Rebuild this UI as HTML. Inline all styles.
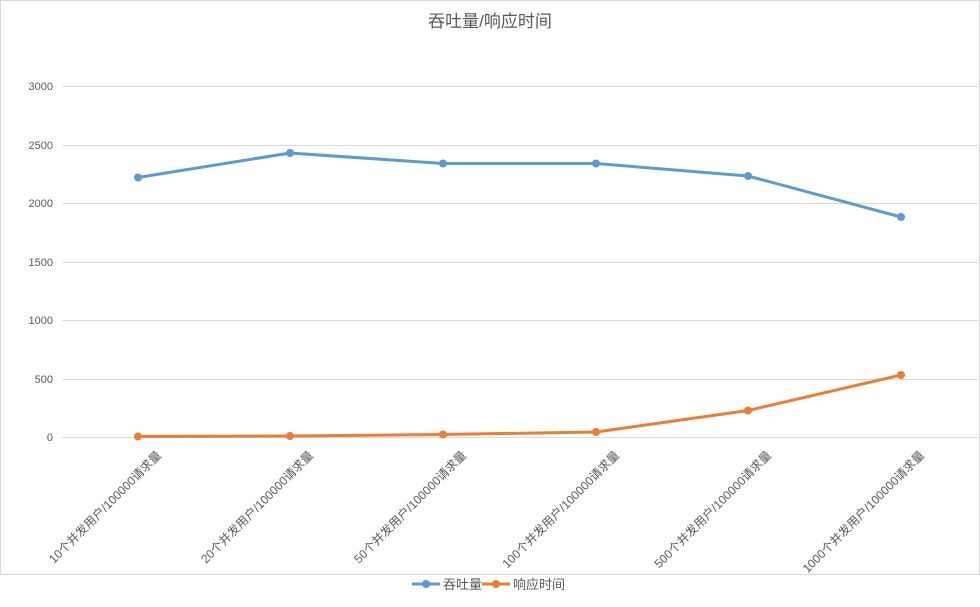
<!DOCTYPE html>
<html><head><meta charset="utf-8"><style>
html,body{margin:0;padding:0;background:#fff;}
svg{display:block;font-family:"Liberation Sans","Noto Sans CJK SC",sans-serif;}
</style></head><body>
<svg width="980" height="607" viewBox="0 0 980 607">
<rect x="0" y="0" width="980" height="607" fill="#fff"/>
<rect x="0.5" y="0.5" width="979" height="574" fill="none" stroke="#d9d9d9"/>
<text x="490" y="27" text-anchor="middle" font-size="17" fill="#595959">吞吐量/响应时间</text>
<g stroke="#d9d9d9" stroke-width="1">
<line x1="62" y1="86.5" x2="978" y2="86.5"/>
<line x1="62" y1="145.5" x2="978" y2="145.5"/>
<line x1="62" y1="203.5" x2="978" y2="203.5"/>
<line x1="62" y1="262.5" x2="978" y2="262.5"/>
<line x1="62" y1="320.5" x2="978" y2="320.5"/>
<line x1="62" y1="379.5" x2="978" y2="379.5"/>
<line x1="62" y1="437.5" x2="978" y2="437.5"/>
</g>
<g font-size="11" fill="#595959" text-anchor="end">
<text x="53" y="90">3000</text><text x="53" y="149">2500</text><text x="53" y="207">2000</text>
<text x="53" y="266">1500</text><text x="53" y="324">1000</text><text x="53" y="383">500</text><text x="53" y="441">0</text>
</g>
<polyline fill="none" stroke="#5b9bd5" stroke-width="3" stroke-linejoin="round" points="138,177.5 290,153 443,163.5 596,163.5 748,176 901,217"/>
<g fill="#5b9bd5"><circle cx="138" cy="177.5" r="4"/><circle cx="290" cy="153" r="4"/><circle cx="443" cy="163.5" r="4"/><circle cx="596" cy="163.5" r="4"/><circle cx="748" cy="176" r="4"/><circle cx="901" cy="217" r="4"/></g>
<polyline fill="none" stroke="#ed7d31" stroke-width="3" stroke-linejoin="round" points="138,436.5 290,436 443,434.5 596,432 748,410.5 901,375"/>
<g fill="#ed7d31"><circle cx="138" cy="436.5" r="4"/><circle cx="290" cy="436" r="4"/><circle cx="443" cy="434.5" r="4"/><circle cx="596" cy="432" r="4"/><circle cx="748" cy="410.5" r="4"/><circle cx="901" cy="375" r="4"/></g>
<g font-size="12" fill="#595959" text-anchor="end">
<text transform="translate(162,456) rotate(-45)">10个并发用户/100000请求量</text>
<text transform="translate(314,456) rotate(-45)">20个并发用户/100000请求量</text>
<text transform="translate(467,456) rotate(-45)">50个并发用户/100000请求量</text>
<text transform="translate(620,456) rotate(-45)">100个并发用户/100000请求量</text>
<text transform="translate(772,456) rotate(-45)">500个并发用户/100000请求量</text>
<text transform="translate(925,456) rotate(-45)">1000个并发用户/100000请求量</text>
</g>
<line x1="412" y1="584" x2="440" y2="584" stroke="#5b9bd5" stroke-width="3"/><circle cx="426" cy="584" r="4" fill="#5b9bd5"/>
<text x="443" y="589" font-size="13" fill="#595959">吞吐量</text>
<line x1="482" y1="584" x2="510" y2="584" stroke="#ed7d31" stroke-width="3"/><circle cx="496" cy="584" r="4" fill="#ed7d31"/>
<text x="513" y="589" font-size="13" fill="#595959">响应时间</text>
</svg>
</body></html>
